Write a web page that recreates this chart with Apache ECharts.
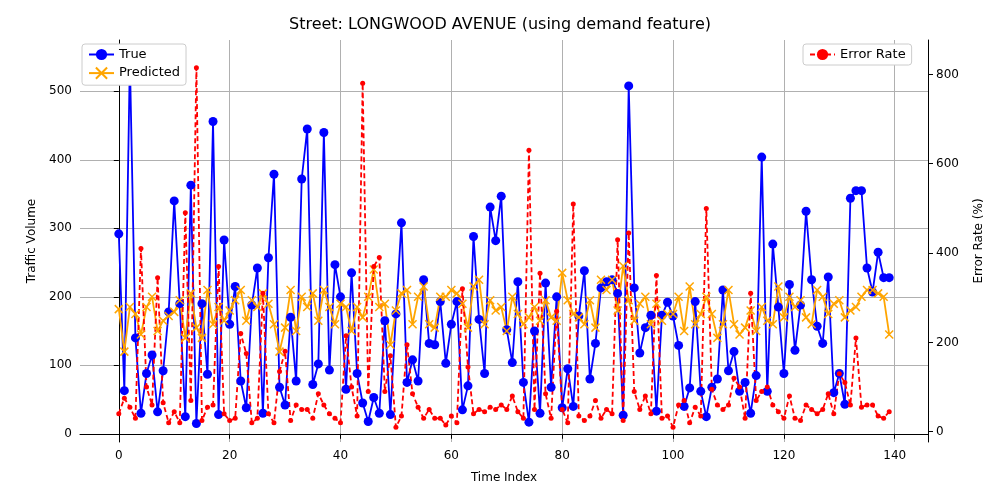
<!DOCTYPE html>
<html><head><meta charset="utf-8">
<script src="https://cdn.jsdelivr.net/npm/echarts@6/dist/echarts.min.js"></script>
<style>body{margin:0}#c{width:1000px;height:500px}</style>
</head><body><div id="c"></div>
<script>
// 真实值
const trueVals = [292,63,547,140,30,88,115,32,92,178,340,190,25,363,15,190,87,456,28,283,
160,215,77,38,188,242,30,257,379,68,42,170,77,372,445,72,102,440,93,247,
200,65,235,88,45,18,53,30,165,28,175,308,75,108,77,225,132,130,193,103,
160,193,35,70,288,167,88,331,282,347,152,104,222,75,17,150,30,220,68,200,
38,95,40,172,238,80,132,213,222,225,205,27,508,213,118,155,173,33,173,192,
172,129,40,67,193,62,25,68,80,210,92,120,62,75,30,85,404,62,277,185,
88,218,122,188,325,225,157,132,229,60,88,43,344,355,355,242,207,265,228,228];
// 预测值
const predVals = [182,120,185,175,145,185,200,150,165,172,178,195,140,205,155,140,210,160,185,165,
180,195,210,165,195,185,205,190,160,120,155,210,150,200,185,205,165,210,185,160,
190,185,150,185,170,200,240,185,190,130,180,205,210,160,200,215,160,155,200,200,
210,205,190,155,215,225,160,195,180,185,150,200,175,160,170,185,165,195,170,165,
235,195,175,170,160,195,155,225,210,225,180,245,195,165,190,200,160,190,165,175,
175,200,150,215,160,175,200,175,140,160,210,160,145,155,180,150,185,165,160,215,
170,200,185,195,170,160,210,200,175,190,195,170,180,185,200,210,210,205,200,145];
// 误差率 (%)
const errVals = [40,75,55,30,410,100,60,345,65,20,45,20,490,70,815,25,55,60,370,40,
25,30,220,175,20,30,310,40,20,135,180,25,60,50,50,30,85,60,40,30,
20,215,100,35,780,90,370,390,90,170,10,35,195,85,55,30,50,30,30,15,
35,20,320,145,40,50,45,55,50,60,50,80,45,30,630,50,355,85,30,270,
50,20,510,35,25,35,70,30,50,40,430,25,445,90,50,80,40,350,30,35,
10,60,70,20,55,35,500,95,60,50,60,120,100,30,310,70,90,100,60,45,
30,80,30,25,60,50,40,50,85,40,130,110,60,210,55,60,60,35,30,45];
const xTicks = [0, 20, 40, 60, 80, 100, 120, 140];
const yTicks = [0, 100, 200, 300, 400, 500];
const y2Ticks = [0, 200, 400, 600, 800];

const chart = echarts.init(document.getElementById('c'));
const font = 'DejaVu Sans';
const mk = (arr) => arr.map((v, i) => [i, v]);
const gridLines = xTicks.map(v => ({xAxis: v})).concat(yTicks.map(v => ({yAxis: v})));
chart.setOption({
  textStyle: {fontFamily: font},
  animation: false,
  title: {text: 'Street: LONGWOOD AVENUE (using demand feature)', left: 'center', top: 12,
    textStyle: {fontSize: 16, fontWeight: 'normal', color: '#000', fontFamily: font}},
  grid: {left: 80, right: 72, top: 40, bottom: 58},
  legend: [
    {data: ['True', 'Predicted'], orient: 'vertical', left: 82, top: 44, itemGap: 4,
     backgroundColor: '#fff', borderColor: '#ccc', borderWidth: 1, borderRadius: 3, padding: [4, 6],
     textStyle: {fontSize: 13, color: '#000'}},
    {data: ['Error Rate'], left: 803, top: 44, backgroundColor: '#fff', borderColor: '#ccc',
     borderWidth: 1, borderRadius: 3, padding: [4, 6], textStyle: {fontSize: 13, color: '#000'}}
  ],
  xAxis: {type: 'value', min: -7, max: 146,
    name: 'Time Index', nameLocation: 'middle', nameGap: 30, nameTextStyle: {fontSize: 12, color: '#000'},
    axisLabel: {color: '#000', fontSize: 12, customValues: xTicks},
    axisTick: {show: true, customValues: xTicks}, axisLine: {lineStyle: {color: '#000'}},
    splitLine: {show: false}},
  yAxis: [
    {type: 'value', min: -12, max: 575,
     name: 'Traffic Volume', nameLocation: 'middle', nameGap: 40, nameTextStyle: {fontSize: 12, color: '#000'},
     axisLabel: {color: '#000', fontSize: 12, customValues: yTicks},
     axisLine: {show: true, lineStyle: {color: '#000'}}, axisTick: {show: true, customValues: yTicks},
     splitLine: {show: false}},
    {type: 'value', min: -23, max: 877,
     name: 'Error Rate (%)', nameLocation: 'middle', nameGap: 45, nameRotate: 90, nameTextStyle: {fontSize: 12, color: '#000'},
     axisLabel: {color: '#000', fontSize: 12, customValues: y2Ticks},
     axisLine: {show: true, lineStyle: {color: '#000'}}, axisTick: {show: true, customValues: y2Ticks},
     splitLine: {show: false}}
  ],
  series: [
    {name: 'True', type: 'line', data: mk(trueVals), symbol: 'circle', symbolSize: 9,
     lineStyle: {color: '#0000ff', width: 1.8}, itemStyle: {color: '#0000ff'},
     markLine: {silent: true, symbol: 'none', label: {show: false}, z: 0,
       lineStyle: {color: '#b0b0b0', type: 'solid', width: 1}, data: gridLines}},
    {name: 'Predicted', type: 'line', data: mk(predVals),
     symbol: 'path://M0,0L10,10M10,0L0,10', symbolSize: 8,
     lineStyle: {color: '#ffa500', width: 1.8}, itemStyle: {color: 'none', borderColor: '#ffa500', borderWidth: 1.5}},
    {name: 'Error Rate', type: 'line', yAxisIndex: 1, data: mk(errVals), symbol: 'circle', symbolSize: 5,
     lineStyle: {color: '#ff0000', width: 1.8, type: [5, 3]}, itemStyle: {color: '#ff0000'}}
  ]
});
</script></body></html>
